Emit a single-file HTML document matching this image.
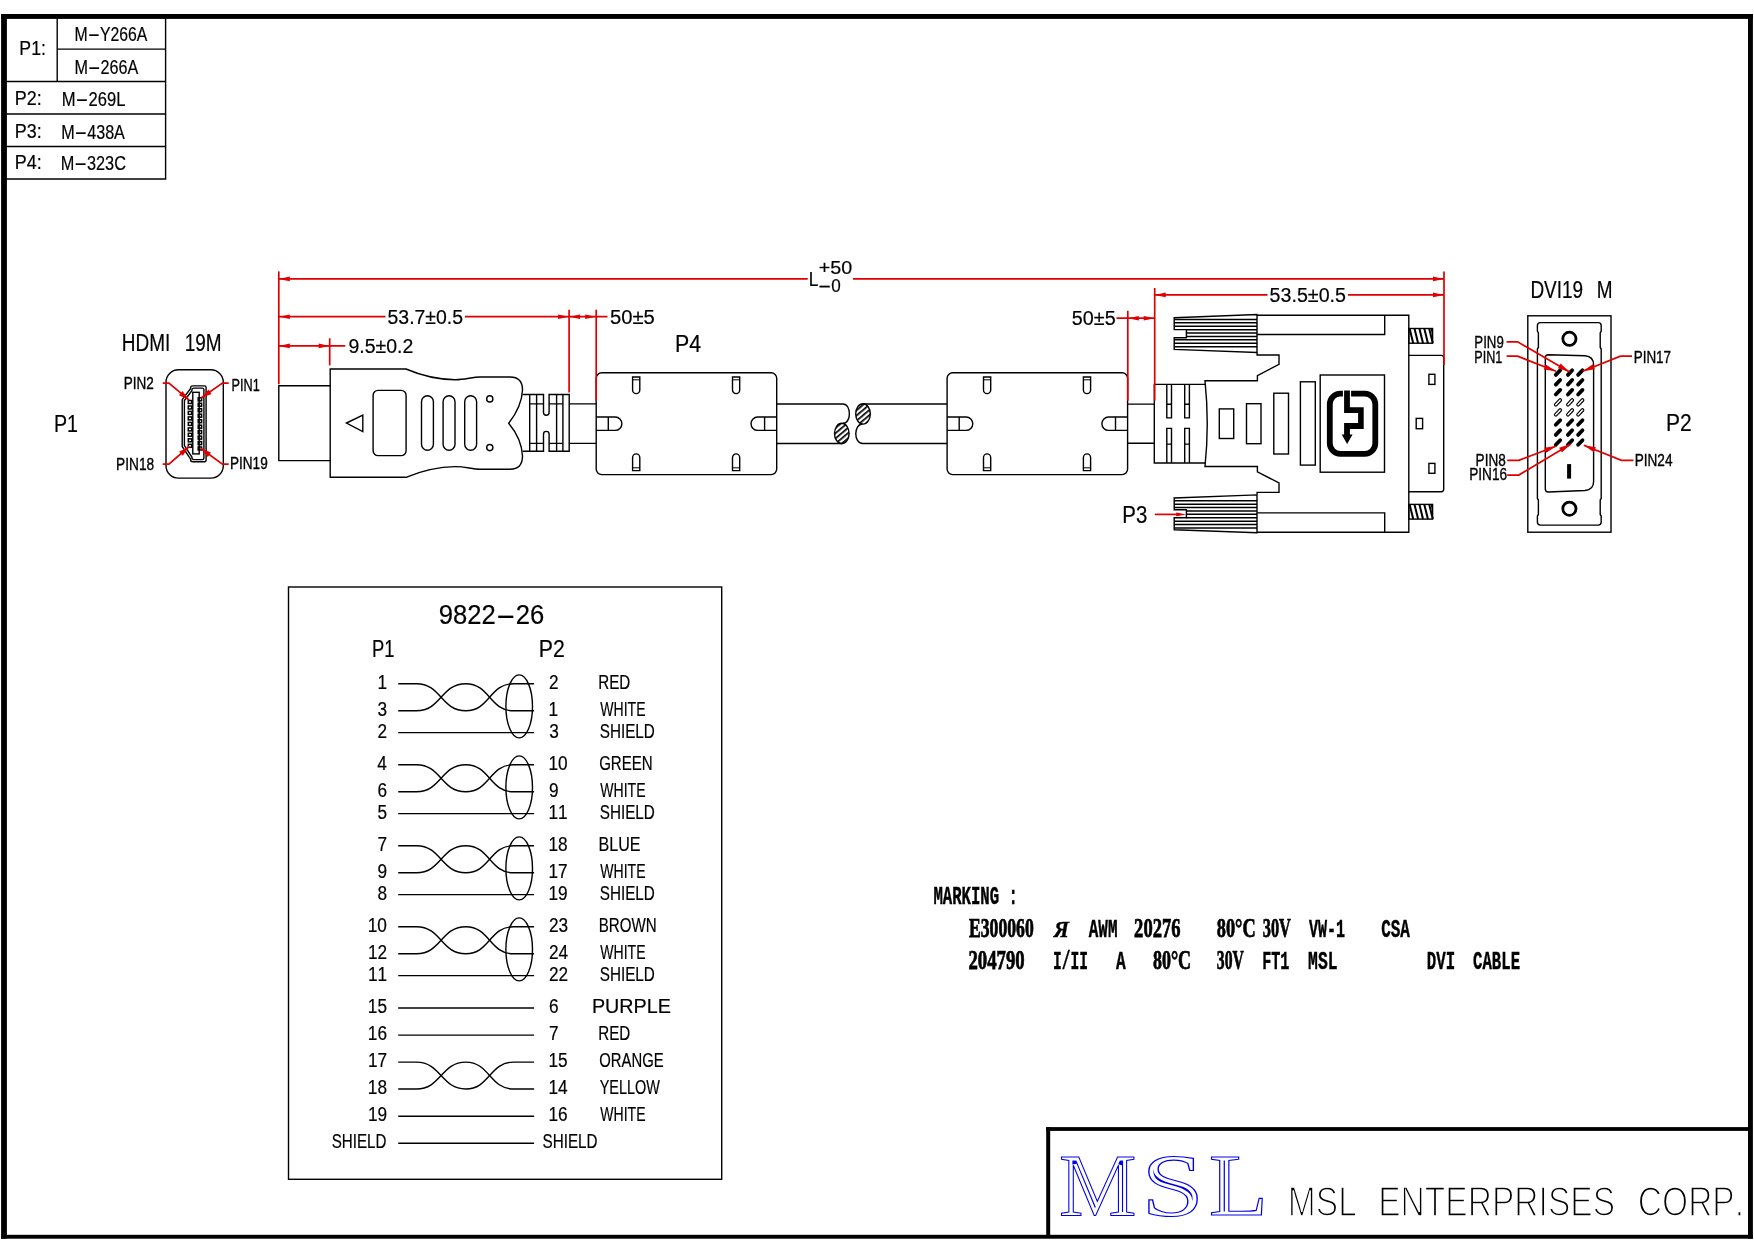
<!DOCTYPE html>
<html lang="en"><head><meta charset="utf-8"><title>HDMI to DVI cable drawing</title>
<style>
html,body{margin:0;padding:0;background:#fff}
svg{display:block}
text{font-family:"Liberation Sans",sans-serif;fill:#000;font-kerning:none;filter:grayscale(1);stroke:#000;stroke-width:.2px}
.k{fill:none;stroke:#000;stroke-width:1.4}
.kf{fill:#000;stroke:none}
.r{fill:none;stroke:#e00000;stroke-width:1.7}
.rf{fill:#e00000;stroke:none}
.sb{font-family:"Liberation Mono",monospace;font-weight:bold}
</style></head><body>
<svg width="1754" height="1240" viewBox="0 0 1754 1240">
<rect width="1754" height="1240" fill="#fff"/>
<g fill="#000" stroke="none">
<rect x="1.1" y="14" width="1751.8" height="4.9"/>
<rect x="1.1" y="14" width="5.8" height="1224.7"/>
<rect x="1748" y="14" width="4.9" height="1224.7"/>
<rect x="1.1" y="1234.8" width="1751.8" height="3.9"/>
<rect x="1046.2" y="1127.1" width="706" height="3.8"/>
<rect x="1046.2" y="1127.1" width="4" height="110"/>
</g>
<g class="k">
<path d="M165.6,18V179H6"/>
<path d="M57.2,18V81.5"/>
<path d="M57.2,49.1H165.6"/>
<path d="M6,81.5H165.6"/>
<path d="M6,114H165.6"/>
<path d="M6,146.5H165.6"/>
</g>
<text transform="translate(19.35 54.50) scale(0.8825 1)" font-size="20.06">P1:</text>
<text transform="translate(74.50 41.00) scale(0.8113 1)" font-size="19.48">M<tspan textLength="15.19" lengthAdjust="spacingAndGlyphs">-</tspan>Y266A</text>
<text transform="translate(74.47 73.50) scale(0.8304 1)" font-size="19.48">M<tspan textLength="15.19" lengthAdjust="spacingAndGlyphs">-</tspan>266A</text>
<text transform="translate(14.73 104.70) scale(0.8937 1)" font-size="20.06">P2:</text>
<text transform="translate(61.74 106.00) scale(0.8524 1)" font-size="19.48">M<tspan textLength="15.19" lengthAdjust="spacingAndGlyphs">-</tspan>269L</text>
<text transform="translate(14.73 138.00) scale(0.8937 1)" font-size="20.06">P3:</text>
<text transform="translate(61.18 138.50) scale(0.8290 1)" font-size="19.48">M<tspan textLength="15.19" lengthAdjust="spacingAndGlyphs">-</tspan>438A</text>
<text transform="translate(14.73 169.40) scale(0.8937 1)" font-size="20.06">P4:</text>
<text transform="translate(60.66 169.80) scale(0.8369 1)" font-size="19.48">M<tspan textLength="15.19" lengthAdjust="spacingAndGlyphs">-</tspan>323C</text>
<text transform="translate(121.85 351.10) scale(0.8010 1)" font-size="23.69">HDMI <tspan x="78.39">19M</tspan></text>
<text transform="translate(53.99 431.90) scale(0.8308 1)" font-size="23.69">P1</text>
<g class="k">
<rect x="166" y="369.8" width="57.3" height="108.3" rx="12.4"/>
<path d="M192.6,385.9H204.6Q206.1,385.9 206.1,387.4V460.3Q206.1,461.8 204.6,461.8H192.6Q190.6,461.8 190.6,459.8V459.2L182.2,446.5V399.7L190.6,388.5V387.9Q190.6,385.9 192.6,385.9Z"/>
<path d="M193.9,388.1H202.4Q203.9,388.1 203.9,389.6V458.1Q203.9,459.6 202.4,459.6H193.9Q191.9,459.6 191.9,457.6V457.0L184.4,445.6V400.6L191.9,390.7V390.1Q191.9,388.1 193.9,388.1Z"/>
<rect x="192.8" y="392.3" width="6.4" height="61.6"/>
</g>
<g class="k" style="stroke-width:1.5">
<rect x="188.3" y="400.5" width="3.4" height="3"/>
<rect x="188.3" y="406.0" width="3.4" height="3"/>
<rect x="188.3" y="411.4" width="3.4" height="3"/>
<rect x="188.3" y="416.9" width="3.4" height="3"/>
<rect x="188.3" y="422.4" width="3.4" height="3"/>
<rect x="188.3" y="427.9" width="3.4" height="3"/>
<rect x="188.3" y="433.3" width="3.4" height="3"/>
<rect x="188.3" y="438.8" width="3.4" height="3"/>
<rect x="188.3" y="444.3" width="3.4" height="3"/>
<rect x="198.2" y="397.8" width="3.4" height="3"/>
<rect x="198.2" y="403.3" width="3.4" height="3"/>
<rect x="198.2" y="408.7" width="3.4" height="3"/>
<rect x="198.2" y="414.2" width="3.4" height="3"/>
<rect x="198.2" y="419.7" width="3.4" height="3"/>
<rect x="198.2" y="425.2" width="3.4" height="3"/>
<rect x="198.2" y="430.6" width="3.4" height="3"/>
<rect x="198.2" y="436.1" width="3.4" height="3"/>
<rect x="198.2" y="441.6" width="3.4" height="3"/>
<rect x="198.2" y="447.0" width="3.4" height="3"/>
</g>
<path class="r" d="M162.7,383.1H168.9L189.2,400.2"/><polygon class="rf" points="189.2,400.2 179.0,395.2 182.5,391.0"/>
<path class="r" d="M228.7,383.1H222.5L201,398"/><polygon class="rf" points="201.0,398.0 208.5,389.5 211.6,394.0"/>
<path class="r" d="M162.7,464.2H168.9L189.2,446.5"/><polygon class="rf" points="189.2,446.5 182.7,455.8 179.1,451.7"/>
<path class="r" d="M228.7,464.2H222.5L200.5,448.2"/><polygon class="rf" points="200.5,448.2 211.0,452.5 207.8,456.9"/>
<text transform="translate(123.69 388.90) scale(0.8241 1)" font-size="16.42" style="stroke:#000;stroke-width:0.35">PIN2</text>
<text transform="translate(231.56 390.60) scale(0.7741 1)" font-size="16.42" style="stroke:#000;stroke-width:0.35">PIN1</text>
<text transform="translate(116.07 470.20) scale(0.8351 1)" font-size="16.42" style="stroke:#000;stroke-width:0.35">PIN18</text>
<text transform="translate(229.88 469.40) scale(0.8294 1)" font-size="16.42" style="stroke:#000;stroke-width:0.35">PIN19</text>
<g class="k">
<path d="M330.2,385.7H278.8V460.6H330.2"/>
<path d="M330.2,369H406C420,375 438,379.5 455,379.7C465,379.8 472,377 480,377H510Q522.5,377 522.5,390C522,402 516,414 508.7,423.2C516,432 522,444 522.5,456Q522.5,469.2 510,469.2H480C472,469.2 465,466.5 455,466.6C438,466.8 420,471.5 406,477.3H330.2Z"/>
<rect x="373.1" y="390.4" width="33" height="65.2" rx="5"/>
<rect x="421.5" y="395.8" width="11.9" height="54.5" rx="5.95"/>
<rect x="443.1" y="395.8" width="11.9" height="54.5" rx="5.95"/>
<rect x="464.7" y="395.8" width="11.9" height="54.5" rx="5.95"/>
<path d="M346.5,423L362.8,415V431.5Z"/>
<circle cx="489.8" cy="398.9" r="3.1"/><circle cx="489.8" cy="447.6" r="3.1"/>
<path d="M522.5,394.5H543.5V412.5A2.8,2.8 0 0 0 549.1,412.5V394.5H569.2V451.3H549.1V434.2A2.8,2.8 0 0 0 543.5,434.2V451.3H522.5"/>
<path d="M529.7,394.5V451.3"/>
<path d="M536.6,394.5V451.3"/>
<path d="M556.6,394.5V451.3"/>
<path d="M562.9,394.5V451.3"/>
<path d="M529.7,403.9H543.5M549.1,403.9H562.9M529.7,443.4H543.5M549.1,443.4H562.9"/>
<path d="M569.2,403.9H596.2M569.2,443.4H596.2"/>
</g>
<defs><pattern id="hat" width="4" height="4" patternUnits="userSpaceOnUse" patternTransform="rotate(-40)"><rect width="4" height="1.7" fill="#000"/></pattern></defs>
<g class="k">
<rect x="596.2" y="372.8" width="180.5" height="101.8" rx="5.5"/>
<path d="M632.6,377H639.8000000000001V390A3.6,3.6 0 0 1 632.6,390Z"/>
<path d="M632.6,379.8H639.8000000000001" stroke-width="1"/>
<path d="M632.6,470.6H639.8000000000001V457.5A3.6,3.6 0 0 0 632.6,457.5Z"/>
<path d="M632.6,467.8H639.8000000000001" stroke-width="1"/>
<path d="M732.5,377H739.7V390A3.6,3.6 0 0 1 732.5,390Z"/>
<path d="M732.5,379.8H739.7" stroke-width="1"/>
<path d="M732.5,470.6H739.7V457.5A3.6,3.6 0 0 0 732.5,457.5Z"/>
<path d="M732.5,467.8H739.7" stroke-width="1"/>
<path d="M596.2,417H615.2A6.7,6.7 0 0 1 615.2,430.4H596.2M608.3000000000001,417V430.4"/>
<path d="M776.7,417H757.7A6.7,6.7 0 0 0 757.7,430.4H776.7M764.6,417V430.4"/>
<rect x="947.1" y="372.8" width="180.5" height="101.8" rx="5.5"/>
<path d="M983.5,377H990.7V390A3.6,3.6 0 0 1 983.5,390Z"/>
<path d="M983.5,379.8H990.7" stroke-width="1"/>
<path d="M983.5,470.6H990.7V457.5A3.6,3.6 0 0 0 983.5,457.5Z"/>
<path d="M983.5,467.8H990.7" stroke-width="1"/>
<path d="M1083.4,377H1090.6000000000001V390A3.6,3.6 0 0 1 1083.4,390Z"/>
<path d="M1083.4,379.8H1090.6000000000001" stroke-width="1"/>
<path d="M1083.4,470.6H1090.6000000000001V457.5A3.6,3.6 0 0 0 1083.4,457.5Z"/>
<path d="M1083.4,467.8H1090.6000000000001" stroke-width="1"/>
<path d="M947.1,417H966.1A6.7,6.7 0 0 1 966.1,430.4H947.1M959.2,417V430.4"/>
<path d="M1127.6,417H1108.6A6.7,6.7 0 0 0 1108.6,430.4H1127.6M1115.5,417V430.4"/>
<path d="M776.7,404H843C851.5,404 851.5,423.3 843,423.3"/>
<path d="M776.7,443.5H842"/>
<ellipse cx="841.8" cy="433.5" rx="7.3" ry="10.2" fill="url(#hat)"/>
<ellipse cx="863" cy="413.9" rx="7.3" ry="10.2" fill="url(#hat)"/>
<path d="M947.1,443.5H862.6C853.5,443.5 853.5,424 862.6,424"/>
<path d="M947.1,404H863"/>
<path d="M1127.6,404.1H1154.3M1127.6,443.2H1154.3"/>
</g>
<text transform="translate(674.95 351.90) scale(0.9166 1)" font-size="23.26">P4</text>
<g class="k">
<polygon points="1174.2,317.7 1257.0,314.6 1257.0,352.5 1174.2,349.4 1174.2,337.7 1186.4,337.7 1186.4,329.6 1174.2,329.6"/>
<path d="M1174.2,319.40H1257" style="stroke-width:1.5"/>
<path d="M1174.2,322.81H1257" style="stroke-width:1.5"/>
<path d="M1174.2,326.22H1257" style="stroke-width:1.5"/>
<path d="M1186.4,329.63H1257" style="stroke-width:1.5"/>
<path d="M1186.4,333.04H1257" style="stroke-width:1.5"/>
<path d="M1186.4,336.45H1257" style="stroke-width:1.5"/>
<path d="M1174.2,339.86H1257" style="stroke-width:1.5"/>
<path d="M1174.2,343.27H1257" style="stroke-width:1.5"/>
<path d="M1174.2,346.68H1257" style="stroke-width:1.5"/>
<polygon points="1174.2,529.7 1257.0,532.8 1257.0,494.9 1174.2,498.0 1174.2,509.7 1186.4,509.7 1186.4,517.8 1174.2,517.8"/>
<path d="M1174.2,528.00H1257" style="stroke-width:1.5"/>
<path d="M1174.2,524.59H1257" style="stroke-width:1.5"/>
<path d="M1174.2,521.18H1257" style="stroke-width:1.5"/>
<path d="M1186.4,517.77H1257" style="stroke-width:1.5"/>
<path d="M1186.4,514.36H1257" style="stroke-width:1.5"/>
<path d="M1186.4,510.95H1257" style="stroke-width:1.5"/>
<path d="M1174.2,507.54H1257" style="stroke-width:1.5"/>
<path d="M1174.2,504.13H1257" style="stroke-width:1.5"/>
<path d="M1174.2,500.72H1257" style="stroke-width:1.5"/>
<path d="M1257.1,315.2H1408.8V532.2H1257.1"/>
<path d="M1257.1,334.5H1384.7V315.2M1257.1,512.9H1384.7V532.2"/>
<path d="M1257.1,352.8V355H1279V364.4L1257.4,375.6V380.8H1205Q1209.5,423.7 1205,466.5H1257.4V471.8L1279,483V492.4H1257.1V494.6"/>
<path d="M1205.3,384.4H1154.3V463H1205.3"/>
<path d="M1166.8,384.4V417.9H1171.5V384.4M1166.8,404.3H1171.5"/>
<path d="M1166.8,463V428.4H1171.5V463M1166.8,444.1H1171.5"/>
<path d="M1184.7,384.4V417.9H1189.4V384.4M1184.7,404.3H1189.4"/>
<path d="M1184.7,463V428.4H1189.4V463M1184.7,444.1H1189.4"/>
<rect x="1219.3" y="408.9" width="14.4" height="29.6"/>
<rect x="1246.5" y="403.7" width="14.5" height="40.0"/>
<rect x="1273.8" y="393.2" width="14.7" height="60.8"/>
<rect x="1300.4" y="381.8" width="14.9" height="83.3"/>
<rect x="1320.2" y="375" width="64.3" height="97.2"/>
<path d="M1408.8,355.4H1441.3Q1443.7,355.4 1443.7,357.8V489.3Q1443.7,491.7 1441.3,491.7H1408.8"/>
<rect x="1428.9" y="374.3" width="6.0" height="10.1"/>
<rect x="1416.2" y="418.4" width="6.4" height="10.3"/>
<rect x="1428.9" y="463.4" width="6.0" height="9.9"/>
</g>
<rect class="k" x="1408.8" y="328.5" width="23.8" height="14.7" stroke-width="1.5"/>
<path d="M1409.6,328.5L1413.2,343.2" stroke="#000" stroke-width="2" fill="none"/>
<path d="M1414.5,328.5L1418.1,343.2" stroke="#000" stroke-width="2" fill="none"/>
<path d="M1419.4,328.5L1423.0,343.2" stroke="#000" stroke-width="2" fill="none"/>
<path d="M1424.3,328.5L1427.9,343.2" stroke="#000" stroke-width="2" fill="none"/>
<path d="M1429.2,328.5L1432.8,343.2" stroke="#000" stroke-width="2" fill="none"/>
<path d="M1430.6,328.5L1432.6,337.5V328.5Z" class="kf"/>
<rect class="k" x="1408.8" y="504.4" width="23.8" height="14.7" stroke-width="1.5"/>
<path d="M1409.6,504.4L1413.2,519.1" stroke="#000" stroke-width="2" fill="none"/>
<path d="M1414.5,504.4L1418.1,519.1" stroke="#000" stroke-width="2" fill="none"/>
<path d="M1419.4,504.4L1423.0,519.1" stroke="#000" stroke-width="2" fill="none"/>
<path d="M1424.3,504.4L1427.9,519.1" stroke="#000" stroke-width="2" fill="none"/>
<path d="M1429.2,504.4L1432.8,519.1" stroke="#000" stroke-width="2" fill="none"/>
<path d="M1430.6,504.4L1432.6,513.4V504.4Z" class="kf"/>
<path d="M1342.9,393.7H1340.4A10.6,10.6 0 0 0 1329.8,404.3V443.3A10.6,10.6 0 0 0 1340.4,453.9H1364.7A10.6,10.6 0 0 0 1375.3,443.3V404.3A10.6,10.6 0 0 0 1364.7,393.7H1351.1" fill="none" stroke="#000" stroke-width="5.8"/>
<polygon class="kf" points="1344.1,390.5 1349.9,390.5 1349.9,407.2 1363.7,407.2 1363.7,428.9 1349.9,428.9 1349.9,434.5 1352.6,434.5 1347.1,444 1341.7,434.5 1344.1,434.5 1344.1,423.1 1358.1,423.1 1358.1,413 1344.1,413"/>
<text transform="translate(1122.33 523.20) scale(0.8513 1)" font-size="23.98">P3</text>
<path class="r" d="M1154.8,514.4H1180"/>
<polygon class="rf" points="1186.2,514.4 1176.2,516.3 1176.2,512.5"/>
<text transform="translate(1530.43 298.20) scale(0.8150 1)" font-size="23.26">DVI19 <tspan x="81.50">M</tspan></text>
<text transform="translate(1665.98 431.20) scale(0.9027 1)" font-size="23.26">P2</text>
<g class="k">
<rect x="1527.8" y="315.8" width="83.2" height="216.4"/>
<path d="M1540.4,322.6H1598.2Q1601.2,322.6 1601.2,325.6V331L1600.2,333V347.5L1601.2,349V498.5L1600.2,500V514.5L1601.2,516V522.1Q1601.2,525.1 1598.2,525.1H1540.4Q1537.4,525.1 1537.4,522.1V516L1538.4,514.5V500L1537.4,498.5V349L1538.4,347.5V333L1537.4,331V325.6Q1537.4,322.6 1540.4,322.6Z"/>
<path d="M1548.3,354.8L1585,355.8Q1593.6,356.5 1593.6,365V481.5Q1593.6,489.8 1585,490.5L1548.3,492Q1545.3,492 1545.3,489V357.8Q1545.3,354.8 1548.3,354.8Z"/>
<circle cx="1569.4" cy="338.8" r="6.6" stroke-width="2.8"/>
<circle cx="1569.4" cy="508.7" r="6.6" stroke-width="2.8"/>
</g>
<path d="M1555.8,374.9L1560.2,370.3" stroke="#000" stroke-width="3.8" stroke-linecap="round" fill="none"/>
<path d="M1567.9,374.9L1572.2,370.3" stroke="#000" stroke-width="3.8" stroke-linecap="round" fill="none"/>
<path d="M1578.1,374.9L1582.5,370.3" stroke="#000" stroke-width="3.8" stroke-linecap="round" fill="none"/>
<path d="M1555.8,384.6L1560.2,380.0" stroke="#000" stroke-width="3.8" stroke-linecap="round" fill="none"/>
<path d="M1567.9,384.6L1572.2,380.0" stroke="#000" stroke-width="3.8" stroke-linecap="round" fill="none"/>
<path d="M1578.1,384.6L1582.5,380.0" stroke="#000" stroke-width="3.8" stroke-linecap="round" fill="none"/>
<path d="M1555.8,394.5L1560.2,389.9" stroke="#000" stroke-width="3.8" stroke-linecap="round" fill="none"/>
<path d="M1567.9,394.5L1572.2,389.9" stroke="#000" stroke-width="3.8" stroke-linecap="round" fill="none"/>
<path d="M1578.1,394.5L1582.5,389.9" stroke="#000" stroke-width="3.8" stroke-linecap="round" fill="none"/>
<path d="M1555.8,404.7L1560.2,400.1" stroke="#000" stroke-width="3.8" stroke-linecap="round" fill="none"/>
<path d="M1555.8,404.7L1560.2,400.1" stroke="#fff" stroke-width="1.5" stroke-linecap="round" fill="none"/>
<path d="M1567.9,404.7L1572.2,400.1" stroke="#000" stroke-width="3.8" stroke-linecap="round" fill="none"/>
<path d="M1567.9,404.7L1572.2,400.1" stroke="#fff" stroke-width="1.5" stroke-linecap="round" fill="none"/>
<path d="M1578.1,404.7L1582.5,400.1" stroke="#000" stroke-width="3.8" stroke-linecap="round" fill="none"/>
<path d="M1578.1,404.7L1582.5,400.1" stroke="#fff" stroke-width="1.5" stroke-linecap="round" fill="none"/>
<path d="M1555.8,414.7L1560.2,410.1" stroke="#000" stroke-width="3.8" stroke-linecap="round" fill="none"/>
<path d="M1555.8,414.7L1560.2,410.1" stroke="#fff" stroke-width="1.5" stroke-linecap="round" fill="none"/>
<path d="M1567.9,414.7L1572.2,410.1" stroke="#000" stroke-width="3.8" stroke-linecap="round" fill="none"/>
<path d="M1567.9,414.7L1572.2,410.1" stroke="#fff" stroke-width="1.5" stroke-linecap="round" fill="none"/>
<path d="M1578.1,414.7L1582.5,410.1" stroke="#000" stroke-width="3.8" stroke-linecap="round" fill="none"/>
<path d="M1578.1,414.7L1582.5,410.1" stroke="#fff" stroke-width="1.5" stroke-linecap="round" fill="none"/>
<path d="M1555.8,424.8L1560.2,420.2" stroke="#000" stroke-width="3.8" stroke-linecap="round" fill="none"/>
<path d="M1567.9,424.8L1572.2,420.2" stroke="#000" stroke-width="3.8" stroke-linecap="round" fill="none"/>
<path d="M1578.1,424.8L1582.5,420.2" stroke="#000" stroke-width="3.8" stroke-linecap="round" fill="none"/>
<path d="M1555.8,434.9L1560.2,430.3" stroke="#000" stroke-width="3.8" stroke-linecap="round" fill="none"/>
<path d="M1567.9,434.9L1572.2,430.3" stroke="#000" stroke-width="3.8" stroke-linecap="round" fill="none"/>
<path d="M1578.1,434.9L1582.5,430.3" stroke="#000" stroke-width="3.8" stroke-linecap="round" fill="none"/>
<path d="M1555.8,444.8L1560.2,440.2" stroke="#000" stroke-width="3.8" stroke-linecap="round" fill="none"/>
<path d="M1567.9,444.8L1572.2,440.2" stroke="#000" stroke-width="3.8" stroke-linecap="round" fill="none"/>
<path d="M1578.1,444.8L1582.5,440.2" stroke="#000" stroke-width="3.8" stroke-linecap="round" fill="none"/>
<rect class="kf" x="1567.1" y="464.1" width="4" height="14.5"/>
<path class="r" d="M1506.6,341.8H1517.6L1569.6,372"/><polygon class="rf" points="1569.6,372.0 1557.9,368.3 1560.6,363.6"/>
<path class="r" d="M1506.6,356.2H1517.6L1556,371.3"/><polygon class="rf" points="1556.0,371.3 1543.8,369.4 1545.8,364.4"/>
<path class="r" d="M1632,356.2H1620.4L1582.7,371.3"/><polygon class="rf" points="1582.7,371.3 1592.8,364.3 1594.8,369.3"/>
<path class="r" d="M1507.2,460.4H1518.8L1556.5,446"/><polygon class="rf" points="1556.5,446.0 1546.3,452.8 1544.3,447.8"/>
<path class="r" d="M1507.2,475.1H1518.8L1570.8,444"/><polygon class="rf" points="1570.8,444.0 1561.9,452.5 1559.1,447.8"/>
<path class="r" d="M1633.5,460.4H1621.5L1583.8,445.3"/><polygon class="rf" points="1583.8,445.3 1595.9,447.3 1593.9,452.3"/>
<text transform="translate(1474.31 348.00) scale(0.8084 1)" font-size="16.42" style="stroke:#000;stroke-width:0.35">PIN9</text>
<text transform="translate(1474.36 362.80) scale(0.7682 1)" font-size="16.42" style="stroke:#000;stroke-width:0.35">PIN1</text>
<text transform="translate(1633.70 362.80) scale(0.8189 1)" font-size="16.42" style="stroke:#000;stroke-width:0.35">PIN17</text>
<text transform="translate(1475.59 465.80) scale(0.8272 1)" font-size="16.42" style="stroke:#000;stroke-width:0.35">PIN8</text>
<text transform="translate(1469.18 480.20) scale(0.8307 1)" font-size="16.42" style="stroke:#000;stroke-width:0.35">PIN16</text>
<text transform="translate(1634.68 465.80) scale(0.8284 1)" font-size="16.42" style="stroke:#000;stroke-width:0.35">PIN24</text>
<g class="r">
<path d="M278.8,271.4V384.3"/>
<path d="M329.7,338.3V365.4"/>
<path d="M569.1,309.7V392.5"/>
<path d="M596.2,309.7V400.6"/>
<path d="M1127.8,310.8V400.6"/>
<path d="M1154.7,288V400.6"/>
<path d="M1444,271.6V365"/>
<path d="M278.8,278.9H807.7M853,278.9H1444"/>
<path d="M278.8,316.7H385.5M465,316.7H607.5"/>
<path d="M278.8,345.9H345.3"/>
<path d="M1154.7,294.9H1267.5M1348,294.9H1444"/>
<path d="M1116.5,318.2H1154.7"/>
</g>
<polygon class="rf" points="278.8,278.9 289.8,276.59999999999997 289.8,281.2"/>
<polygon class="rf" points="1444,278.9 1433,276.59999999999997 1433,281.2"/>
<polygon class="rf" points="278.8,316.7 289.8,314.4 289.8,319.0"/>
<polygon class="rf" points="569.1,316.7 558.1,314.4 558.1,319.0"/>
<polygon class="rf" points="569.1,316.7 580.1,314.4 580.1,319.0"/>
<polygon class="rf" points="596.2,316.7 585.2,314.4 585.2,319.0"/>
<polygon class="rf" points="278.8,345.9 289.8,343.59999999999997 289.8,348.2"/>
<polygon class="rf" points="329.7,345.9 318.7,343.59999999999997 318.7,348.2"/>
<polygon class="rf" points="1154.7,294.9 1165.7,292.59999999999997 1165.7,297.2"/>
<polygon class="rf" points="1444,294.9 1433,292.59999999999997 1433,297.2"/>
<polygon class="rf" points="1127.8,318.2 1138.8,315.9 1138.8,320.5"/>
<polygon class="rf" points="1154.7,318.2 1143.7,315.9 1143.7,320.5"/>
<text transform="translate(387.52 323.90) scale(0.9220 1)" font-size="21.08">53.7±0.5</text>
<text transform="translate(348.39 353.20) scale(0.9249 1)" font-size="21.08">9.5±0.2</text>
<text transform="translate(609.89 323.90) scale(0.9600 1)" font-size="21.08">50±5</text>
<text transform="translate(1071.81 325.10) scale(0.9377 1)" font-size="21.08">50±5</text>
<text transform="translate(1269.61 302.30) scale(0.9332 1)" font-size="21.08">53.5±0.5</text>
<text transform="translate(808.87 286.20) scale(0.8286 1)" font-size="21.08">L</text>
<text transform="translate(818.74 273.90) scale(1.0431 1)" font-size="18.90">+50</text>
<text transform="translate(817.92 292.20) scale(0.9041 1)" font-size="18.90"><tspan textLength="14.74" lengthAdjust="spacingAndGlyphs">-</tspan>0</text>
<g class="k">
<rect x="288.5" y="587" width="433.2" height="592.3"/>
<path d="M398.2,683.7H416.5C441.1,683.7 441.1,710.8000000000001 465.8,710.8000000000001C489.6,710.8000000000001 489.6,683.7 513.5,683.7H534.1"/>
<path d="M398.2,710.8000000000001H416.5C441.1,710.8000000000001 441.1,683.7 465.8,683.7C489.6,683.7 489.6,710.8000000000001 513.5,710.8000000000001H534.1"/>
<ellipse cx="519.2" cy="706.4" rx="13.3" ry="31.5"/>
<path d="M398.2,732.6H534.1"/>
<path d="M398.2,764.7H416.5C441.1,764.7 441.1,791.8000000000001 465.8,791.8000000000001C489.6,791.8000000000001 489.6,764.7 513.5,764.7H534.1"/>
<path d="M398.2,791.8000000000001H416.5C441.1,791.8000000000001 441.1,764.7 465.8,764.7C489.6,764.7 489.6,791.8000000000001 513.5,791.8000000000001H534.1"/>
<ellipse cx="519.2" cy="787.4" rx="13.3" ry="31.5"/>
<path d="M398.2,813.6H534.1"/>
<path d="M398.2,845.7H416.5C441.1,845.7 441.1,872.8000000000001 465.8,872.8000000000001C489.6,872.8000000000001 489.6,845.7 513.5,845.7H534.1"/>
<path d="M398.2,872.8000000000001H416.5C441.1,872.8000000000001 441.1,845.7 465.8,845.7C489.6,845.7 489.6,872.8000000000001 513.5,872.8000000000001H534.1"/>
<ellipse cx="519.2" cy="868.4" rx="13.3" ry="31.5"/>
<path d="M398.2,894.6H534.1"/>
<path d="M398.2,926.7H416.5C441.1,926.7 441.1,953.8000000000001 465.8,953.8000000000001C489.6,953.8000000000001 489.6,926.7 513.5,926.7H534.1"/>
<path d="M398.2,953.8000000000001H416.5C441.1,953.8000000000001 441.1,926.7 465.8,926.7C489.6,926.7 489.6,953.8000000000001 513.5,953.8000000000001H534.1"/>
<ellipse cx="519.2" cy="949.4" rx="13.3" ry="31.5"/>
<path d="M398.2,975.6H534.1"/>
<path d="M398.2,1008H534.1"/>
<path d="M398.2,1035.1H534.1"/>
<path d="M398.2,1116.3H534.1"/>
<path d="M398.2,1143.2H534.1"/>
<path d="M398.2,1062.1H416.5C441.1,1062.1 441.1,1089 465.8,1089C489.6,1089 489.6,1062.1 513.5,1062.1H534.1"/>
<path d="M398.2,1089H416.5C441.1,1089 441.1,1062.1 465.8,1062.1C489.6,1062.1 489.6,1089 513.5,1089H534.1"/>
</g>
<text transform="translate(438.80 624.40) scale(0.9282 1)" font-size="27.62">9822<tspan textLength="21.54" lengthAdjust="spacingAndGlyphs">-</tspan>26</text>
<text transform="translate(371.89 657.40) scale(0.7913 1)" font-size="23.26">P1</text>
<text transform="translate(538.86 657.40) scale(0.9145 1)" font-size="23.26">P2</text>
<text transform="translate(377.55 688.60) scale(0.8600 1)" font-size="20.06">1</text>
<text transform="translate(548.93 688.60) scale(0.8600 1)" font-size="20.06">2</text>
<text transform="translate(598.25 688.60) scale(0.7573 1)" font-size="20.06">RED</text>
<text transform="translate(377.46 715.70) scale(0.8600 1)" font-size="20.06">3</text>
<text transform="translate(548.49 715.70) scale(0.8600 1)" font-size="20.06">1</text>
<text transform="translate(600.34 715.70) scale(0.7005 1)" font-size="20.06">WHITE</text>
<text transform="translate(377.57 737.50) scale(0.8600 1)" font-size="20.06">2</text>
<text transform="translate(549.14 737.50) scale(0.8600 1)" font-size="20.06">3</text>
<text transform="translate(599.71 737.50) scale(0.7608 1)" font-size="20.06">SHIELD</text>
<text transform="translate(377.21 769.60) scale(0.8600 1)" font-size="20.06">4</text>
<text transform="translate(548.49 769.60) scale(0.8600 1)" font-size="20.06">10</text>
<text transform="translate(599.14 769.60) scale(0.7513 1)" font-size="20.06">GREEN</text>
<text transform="translate(377.46 796.70) scale(0.8600 1)" font-size="20.06">6</text>
<text transform="translate(548.99 796.70) scale(0.8600 1)" font-size="20.06">9</text>
<text transform="translate(600.34 796.70) scale(0.7005 1)" font-size="20.06">WHITE</text>
<text transform="translate(377.43 818.50) scale(0.8600 1)" font-size="20.06">5</text>
<text transform="translate(548.49 818.50) scale(0.8600 1)" font-size="20.06">11</text>
<text transform="translate(599.71 818.50) scale(0.7608 1)" font-size="20.06">SHIELD</text>
<text transform="translate(377.57 850.60) scale(0.8600 1)" font-size="20.06">7</text>
<text transform="translate(548.49 850.60) scale(0.8600 1)" font-size="20.06">18</text>
<text transform="translate(598.58 850.60) scale(0.8018 1)" font-size="20.06">BLUE</text>
<text transform="translate(377.52 877.70) scale(0.8600 1)" font-size="20.06">9</text>
<text transform="translate(548.49 877.70) scale(0.8600 1)" font-size="20.06">17</text>
<text transform="translate(600.34 877.70) scale(0.7005 1)" font-size="20.06">WHITE</text>
<text transform="translate(377.46 899.50) scale(0.8600 1)" font-size="20.06">8</text>
<text transform="translate(548.49 899.50) scale(0.8600 1)" font-size="20.06">19</text>
<text transform="translate(599.71 899.50) scale(0.7608 1)" font-size="20.06">SHIELD</text>
<text transform="translate(367.79 931.60) scale(0.8600 1)" font-size="20.06">10</text>
<text transform="translate(548.93 931.60) scale(0.8600 1)" font-size="20.06">23</text>
<text transform="translate(598.66 931.60) scale(0.7541 1)" font-size="20.06">BROWN</text>
<text transform="translate(367.98 958.70) scale(0.8600 1)" font-size="20.06">12</text>
<text transform="translate(548.93 958.70) scale(0.8600 1)" font-size="20.06">24</text>
<text transform="translate(600.34 958.70) scale(0.7005 1)" font-size="20.06">WHITE</text>
<text transform="translate(367.96 980.50) scale(0.8600 1)" font-size="20.06">11</text>
<text transform="translate(548.93 980.50) scale(0.8600 1)" font-size="20.06">22</text>
<text transform="translate(599.71 980.50) scale(0.7608 1)" font-size="20.06">SHIELD</text>
<text transform="translate(367.84 1012.90) scale(0.8600 1)" font-size="20.06">15</text>
<text transform="translate(548.92 1012.90) scale(0.8600 1)" font-size="20.06">6</text>
<text transform="translate(591.88 1012.90) scale(0.9574 1)" font-size="20.64">PURPLE</text>
<text transform="translate(367.87 1040.00) scale(0.8600 1)" font-size="20.06">16</text>
<text transform="translate(548.92 1040.00) scale(0.8600 1)" font-size="20.06">7</text>
<text transform="translate(598.25 1040.00) scale(0.7573 1)" font-size="20.06">RED</text>
<text transform="translate(367.98 1067.00) scale(0.8600 1)" font-size="20.06">17</text>
<text transform="translate(548.49 1067.00) scale(0.8600 1)" font-size="20.06">15</text>
<text transform="translate(599.30 1067.00) scale(0.7413 1)" font-size="20.06">ORANGE</text>
<text transform="translate(367.86 1093.90) scale(0.8600 1)" font-size="20.06">18</text>
<text transform="translate(548.49 1093.90) scale(0.8600 1)" font-size="20.06">14</text>
<text transform="translate(599.68 1093.90) scale(0.7197 1)" font-size="20.06">YELLOW</text>
<text transform="translate(367.93 1121.20) scale(0.8600 1)" font-size="20.06">19</text>
<text transform="translate(548.49 1121.20) scale(0.8600 1)" font-size="20.06">16</text>
<text transform="translate(600.34 1121.20) scale(0.7005 1)" font-size="20.06">WHITE</text>
<text transform="translate(331.71 1148.10) scale(0.7565 1)" font-size="20.06">SHIELD</text>
<text transform="translate(542.51 1148.10) scale(0.7594 1)" font-size="20.06">SHIELD</text>
<text y="903.80"><tspan x="933.44" textLength="84.44" lengthAdjust="spacingAndGlyphs" font-size="26.10" style="font-family:'Liberation Mono',monospace;font-weight:bold;stroke:#000;stroke-width:.45px">MARKING :</tspan></text>
<text y="936.60"><tspan x="969.00" textLength="64.77" lengthAdjust="spacingAndGlyphs" font-size="26.26" style="font-family:'Liberation Serif',serif;font-weight:bold;stroke:#000;stroke-width:.75px">E300060</tspan> <tspan x="1053.85" textLength="15.19" lengthAdjust="spacingAndGlyphs" font-size="22.60" style="font-family:'Liberation Serif',serif;font-weight:bold;font-style:italic;stroke:#000;stroke-width:.3px">Я</tspan> <tspan x="1088.80" textLength="28.67" lengthAdjust="spacingAndGlyphs" font-size="26.10" style="font-family:'Liberation Mono',monospace;font-weight:bold;stroke:#000;stroke-width:.45px">AWM</tspan> <tspan x="1134.12" textLength="46.42" lengthAdjust="spacingAndGlyphs" font-size="26.26" style="font-family:'Liberation Serif',serif;font-weight:bold;stroke:#000;stroke-width:.75px">20276</tspan> <tspan x="1216.79" textLength="38.91" lengthAdjust="spacingAndGlyphs" font-size="26.26" style="font-family:'Liberation Serif',serif;font-weight:bold;stroke:#000;stroke-width:.75px">80°C</tspan> <tspan x="1262.79" textLength="28.10" lengthAdjust="spacingAndGlyphs" font-size="26.26" style="font-family:'Liberation Serif',serif;font-weight:bold;stroke:#000;stroke-width:.75px">30V</tspan> <tspan x="1308.88" textLength="36.16" lengthAdjust="spacingAndGlyphs" font-size="26.10" style="font-family:'Liberation Mono',monospace;font-weight:bold;stroke:#000;stroke-width:.45px">VW-1</tspan> <tspan x="1381.18" textLength="28.72" lengthAdjust="spacingAndGlyphs" font-size="26.10" style="font-family:'Liberation Mono',monospace;font-weight:bold;stroke:#000;stroke-width:.45px">CSA</tspan></text>
<text y="968.50"><tspan x="968.51" textLength="56.20" lengthAdjust="spacingAndGlyphs" font-size="26.26" style="font-family:'Liberation Serif',serif;font-weight:bold;stroke:#000;stroke-width:.75px">204790</tspan> <tspan x="1052.98" textLength="35.03" lengthAdjust="spacingAndGlyphs" font-size="26.10" style="font-family:'Liberation Mono',monospace;font-weight:bold;stroke:#000;stroke-width:.45px">I/II</tspan> <tspan x="1116.10" textLength="9.70" lengthAdjust="spacingAndGlyphs" font-size="26.10" style="font-family:'Liberation Mono',monospace;font-weight:bold;stroke:#000;stroke-width:.45px">A</tspan> <tspan x="1152.90" textLength="38.17" lengthAdjust="spacingAndGlyphs" font-size="26.26" style="font-family:'Liberation Serif',serif;font-weight:bold;stroke:#000;stroke-width:.75px">80°C</tspan> <tspan x="1216.81" textLength="26.96" lengthAdjust="spacingAndGlyphs" font-size="26.26" style="font-family:'Liberation Serif',serif;font-weight:bold;stroke:#000;stroke-width:.75px">30V</tspan> <tspan x="1262.16" textLength="27.28" lengthAdjust="spacingAndGlyphs" font-size="26.10" style="font-family:'Liberation Mono',monospace;font-weight:bold;stroke:#000;stroke-width:.45px">FT1</tspan> <tspan x="1308.11" textLength="29.45" lengthAdjust="spacingAndGlyphs" font-size="26.10" style="font-family:'Liberation Mono',monospace;font-weight:bold;stroke:#000;stroke-width:.45px">MSL</tspan> <tspan x="1426.76" textLength="28.34" lengthAdjust="spacingAndGlyphs" font-size="26.10" style="font-family:'Liberation Mono',monospace;font-weight:bold;stroke:#000;stroke-width:.45px">DVI</tspan> <tspan x="1473.09" textLength="46.95" lengthAdjust="spacingAndGlyphs" font-size="26.10" style="font-family:'Liberation Mono',monospace;font-weight:bold;stroke:#000;stroke-width:.45px">CABLE</tspan></text>
<text y="1214.70" font-size="88.09" style="font-family:'Liberation Serif',serif;filter:none;fill:#0000e6;stroke:#fff;stroke-width:7.1"><tspan x="1059.09" textLength="77.46" lengthAdjust="spacingAndGlyphs">M</tspan><tspan x="1141.32" textLength="63.00" lengthAdjust="spacingAndGlyphs">S</tspan><tspan x="1208.80" textLength="59.33" lengthAdjust="spacingAndGlyphs">L</tspan></text>
<text y="1214.70" font-size="88.09" style="font-family:'Liberation Serif',serif;filter:none;fill:none;stroke:#0000e6;stroke-width:1.1"><tspan x="1059.09" textLength="77.46" lengthAdjust="spacingAndGlyphs">M</tspan><tspan x="1141.32" textLength="63.00" lengthAdjust="spacingAndGlyphs">S</tspan><tspan x="1208.80" textLength="59.33" lengthAdjust="spacingAndGlyphs">L</tspan></text>
<text transform="translate(1287.87 1215.65) scale(0.7937 1)" font-size="42.30" style="stroke:#fff;stroke-width:1.7">MSL <tspan x="113.81">ENTERPRISES</tspan> <tspan x="440.88">CORP.</tspan></text>
</svg>
</body></html>
